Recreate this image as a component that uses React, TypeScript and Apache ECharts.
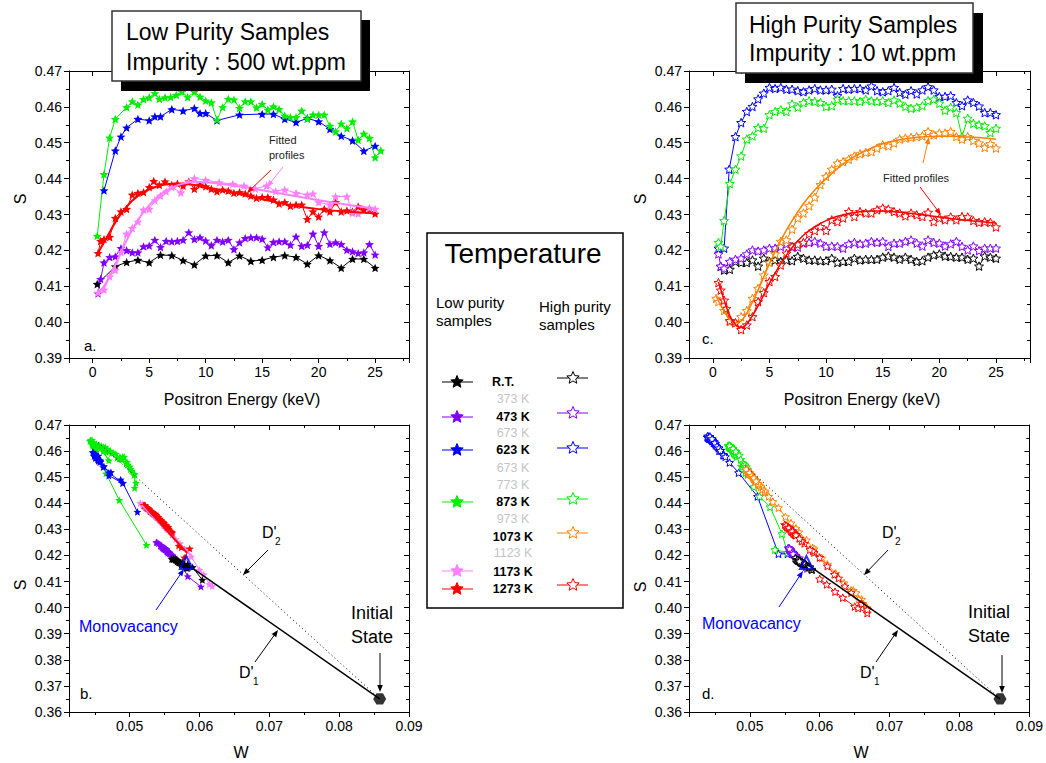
import React, { useEffect, useRef } from "react";
import * as echarts from "echarts";

const FONT = '"Liberation Sans", Arial, Helvetica, sans-serif';

// ---------------- colours ----------------
const C_RT = "#000000";
const C_473 = "#8000ff";
const C_623 = "#0000ff";
const C_873 = "#00ee00";
const C_1073 = "#ff8000";
const C_1173 = "#ff80ff";
const C_1273 = "#ff0000";

// ---------------- panel a : low purity, S vs positron energy ----------------
const aRT = [[0.4,0.4106],[2,0.4155],[3,0.4167],[4,0.4173],[5,0.4166],[6,0.4187],[7,0.4186],[8,0.4172],[9,0.416],[10,0.4185],[11,0.4186],[12,0.4166],[13,0.4185],[14,0.417],[15,0.4173],[16,0.4181],[17,0.4186],[18,0.4181],[19,0.4162],[20,0.4186],[21,0.4172],[22,0.4151],[23,0.4176],[24,0.4176],[25,0.4151]];
const a473 = [[0.47,0.408],[0.7,0.412],[1,0.4166],[1.5,0.4181],[2,0.4183],[2.5,0.4206],[3,0.42],[3.5,0.4194],[4,0.4194],[4.5,0.4211],[5,0.4213],[5.5,0.4229],[6,0.4209],[6.5,0.4226],[7,0.4225],[7.5,0.4226],[8,0.4229],[8.5,0.425],[9,0.4231],[9.5,0.4236],[10,0.4227],[10.5,0.4214],[11,0.4229],[11.5,0.4224],[12,0.4229],[12.5,0.4203],[13,0.4222],[13.5,0.4234],[14,0.4236],[14.5,0.4236],[15,0.4232],[15.5,0.4208],[16,0.4223],[16.5,0.4225],[17,0.4225],[17.5,0.4215],[18,0.4238],[18.5,0.4212],[19,0.4215],[19.5,0.4246],[20,0.4212],[20.5,0.425],[21,0.4218],[21.5,0.4222],[22,0.4217],[22.5,0.4201],[23,0.4197],[23.5,0.4192],[24,0.4194],[24.5,0.4217],[25,0.4188]];
const a623 = [[1,0.4367],[2,0.4478],[2.5,0.4517],[3,0.4542],[4,0.4566],[5,0.4562],[5.5,0.4573],[6,0.4573],[7,0.4593],[8,0.4589],[9,0.4596],[9.5,0.4582],[10,0.4582],[11,0.4562],[13,0.4578],[15,0.458],[16,0.458],[17,0.4566],[18,0.4557],[19,0.4568],[20,0.4559],[21,0.4538],[22,0.4519],[23,0.4506],[24,0.4477],[25,0.4491]];
const a873 = [[0.4,0.424],[1,0.4412],[1.5,0.4514],[2,0.4566],[3,0.4599],[3.5,0.4615],[4,0.4606],[4.5,0.4621],[5,0.4626],[5.5,0.4638],[5.9,0.4622],[6.4,0.4626],[6.9,0.4627],[7.4,0.4633],[7.9,0.4642],[8.4,0.4627],[9,0.4642],[9.5,0.4628],[10,0.4617],[10.5,0.4612],[11,0.4564],[11.5,0.4599],[12,0.4622],[12.5,0.462],[13,0.4597],[13.5,0.4615],[14,0.4615],[14.5,0.4598],[15,0.4608],[15.5,0.4592],[16,0.4601],[16.5,0.4593],[17,0.4575],[17.5,0.4571],[18,0.4571],[18.5,0.4589],[19,0.4567],[19.5,0.4578],[20,0.4578],[20.5,0.4578],[21,0.4547],[21.5,0.4531],[22,0.4553],[22.5,0.454],[23,0.4559],[23.5,0.4508],[24,0.4525],[24.5,0.4513],[25,0.4459],[25.5,0.4478]];
const a1173 = [[0.47,0.4082],[1,0.409],[1.5,0.4127],[2,0.4145],[2.5,0.4195],[3,0.4246],[3.5,0.4262],[4,0.428],[4.5,0.4313],[5,0.4315],[5.5,0.4339],[6,0.4352],[6.5,0.4364],[7,0.4376],[7.8,0.4361],[8.5,0.439],[9,0.4401],[10,0.4396],[11.2,0.4389],[12.4,0.4385],[13.4,0.438],[14.4,0.4372],[15.4,0.438],[16.2,0.4365],[17,0.4369],[18,0.436],[19,0.4355],[19.5,0.4358],[20,0.4334],[21,0.4327],[21.5,0.435],[22.5,0.435],[23,0.4304],[23.5,0.4302],[24.5,0.4318],[25,0.4315]];
const a1273 = [[0.47,0.4192],[0.7,0.4226],[1,0.4231],[1.5,0.4237],[2,0.429],[2.5,0.4308],[3,0.4315],[3.5,0.4355],[4,0.436],[4.5,0.4362],[5,0.4376],[5.4,0.4393],[5.9,0.4382],[6.4,0.4392],[7,0.4382],[7.5,0.4386],[8,0.438],[8.5,0.4392],[9,0.4371],[9.5,0.4383],[10,0.4378],[10.5,0.4371],[11,0.4364],[11.5,0.4369],[12,0.4366],[12.5,0.436],[13,0.4362],[13.5,0.4358],[14,0.4352],[14.5,0.4346],[15,0.4348],[15.5,0.4348],[16,0.4341],[16.5,0.433],[17,0.4334],[17.5,0.4324],[18,0.4327],[18.5,0.4327],[19,0.4287],[19.5,0.4308],[20,0.4294],[20.5,0.4315],[21,0.4308],[21.5,0.4334],[22,0.4308],[22.5,0.4311],[23,0.4308],[23.5,0.4322],[24,0.4313],[24.5,0.4315],[25,0.4302]];
const aFit1273 = [[0.47,0.4193],[1,0.4222],[2,0.4278],[3,0.4322],[4,0.4352],[5,0.437],[6,0.4381],[7,0.4386],[8,0.4386],[9,0.4382],[10,0.4376],[12,0.4364],[14,0.435],[16,0.4336],[18,0.4324],[20,0.4315],[22,0.4309],[25,0.4303]];
const aFit1173 = [[0.47,0.4083],[1,0.41],[2,0.416],[3,0.4228],[4,0.4284],[5,0.4326],[6,0.4356],[7,0.4375],[8,0.4386],[9,0.4391],[10,0.439],[12,0.4383],[14,0.4373],[16,0.4362],[18,0.4351],[20,0.434],[22,0.433],[25,0.4316]];

// ---------------- panel c : high purity, S vs positron energy ----------------
const cRT = [[0.7,0.4155],[1,0.4145],[1.5,0.4147],[2,0.4169],[2.5,0.4166],[3,0.4166],[3.5,0.4173],[4,0.4156],[4.5,0.4178],[5,0.4169],[5.5,0.4173],[6,0.4169],[6.5,0.4173],[7,0.4171],[7.5,0.4183],[8,0.4178],[8.5,0.4173],[9,0.4173],[9.5,0.4171],[10,0.4171],[10.5,0.4178],[11,0.4166],[11.5,0.4169],[12,0.4169],[12.5,0.4178],[13,0.4173],[13.5,0.4175],[14,0.4175],[14.5,0.4175],[15,0.4181],[15.5,0.4184],[16,0.4181],[16.5,0.4175],[17,0.4181],[17.5,0.4175],[18,0.4169],[18.5,0.4171],[19,0.4181],[19.5,0.4187],[20,0.419],[20.5,0.4184],[21,0.4183],[21.5,0.4181],[22,0.4181],[22.5,0.4175],[23,0.4178],[23.5,0.4156],[24,0.4184],[24.5,0.4181],[25,0.4178]];
const c473 = [[0.5,0.419],[0.7,0.4156],[1,0.415],[1.5,0.4169],[2,0.4175],[2.5,0.4178],[3,0.419],[3.5,0.4201],[4,0.4198],[4.5,0.4201],[5,0.4206],[5.5,0.4206],[6,0.4211],[6.5,0.4218],[7,0.4209],[7.5,0.4209],[8,0.422],[8.5,0.4222],[9,0.4225],[9.5,0.422],[10,0.4211],[10.5,0.4212],[11,0.4211],[11.5,0.4206],[12,0.4218],[12.5,0.4222],[13,0.4218],[13.5,0.422],[14,0.4225],[14.5,0.4222],[15,0.4225],[15.5,0.4211],[16,0.422],[16.5,0.422],[17,0.4225],[17.5,0.4229],[18,0.422],[18.5,0.4212],[19,0.4229],[19.5,0.4222],[20,0.422],[20.5,0.4212],[21,0.4218],[21.5,0.4225],[22,0.4211],[22.5,0.4201],[23,0.4212],[23.5,0.4199],[24,0.4206],[24.5,0.4206],[25,0.4206]];
const c623 = [[0.5,0.4206],[1,0.4206],[1.45,0.4426],[2,0.4517],[2.5,0.4556],[3,0.4587],[3.5,0.4601],[4,0.4622],[4.5,0.4638],[5,0.4654],[5.5,0.4651],[6,0.4654],[6.5,0.4649],[7,0.4649],[7.5,0.4645],[8,0.4642],[8.5,0.4647],[9,0.4651],[9.5,0.4647],[10,0.4647],[10.5,0.4649],[11,0.4631],[11.5,0.4651],[12,0.4649],[12.5,0.4651],[13,0.4651],[13.5,0.4647],[14,0.4658],[14.5,0.4645],[15,0.4642],[15.5,0.4645],[16,0.4654],[16.5,0.464],[17,0.4635],[17.5,0.4645],[18,0.4636],[18.5,0.4647],[19,0.4656],[19.5,0.4647],[20,0.4629],[20.5,0.4629],[21,0.4631],[21.5,0.4612],[22,0.4603],[22.5,0.4619],[23,0.4612],[23.5,0.4602],[24,0.4584],[24.5,0.4584],[25,0.4578]];
const c873 = [[0.5,0.4222],[0.7,0.4211],[1,0.4283],[1.5,0.4386],[2,0.4426],[2.5,0.4463],[3,0.451],[3.5,0.4519],[4,0.4542],[4.5,0.454],[5,0.4578],[5.5,0.4587],[6,0.4592],[6.5,0.4587],[7,0.4608],[7.5,0.4599],[8,0.4612],[8.5,0.4617],[9,0.4615],[9.5,0.4612],[10,0.4601],[10.5,0.4603],[11,0.4621],[11.5,0.4617],[12,0.4617],[12.5,0.4617],[13,0.4615],[13.5,0.4621],[14,0.4617],[14.5,0.4615],[15,0.4617],[15.5,0.4612],[16,0.4619],[16.5,0.461],[17,0.4601],[17.5,0.4596],[18,0.4599],[18.5,0.4603],[19,0.4617],[19.5,0.4621],[20,0.461],[20.5,0.459],[21,0.4599],[21.5,0.4584],[22,0.4517],[22.5,0.4568],[23,0.4554],[23.5,0.455],[24,0.4547],[24.5,0.4528],[25,0.454]];
const c1073 = [[0.3,0.4066],[0.5,0.4057],[1,0.4032],[1.5,0.4001],[2,0.3998],[2.5,0.4015],[3,0.4032],[3.5,0.4066],[4,0.4094],[4.5,0.4131],[5,0.4166],[5.5,0.419],[6,0.4225],[6.5,0.4229],[7,0.4259],[7.5,0.429],[8,0.4304],[8.5,0.4324],[9,0.4348],[9.5,0.4383],[10,0.4406],[10.5,0.4426],[11,0.4443],[11.5,0.4447],[12,0.4454],[12.5,0.4463],[13,0.4469],[13.5,0.4473],[14,0.4475],[14.5,0.4485],[15,0.4494],[15.5,0.4491],[16,0.4499],[16.5,0.451],[17,0.4513],[17.5,0.4515],[18,0.4517],[18.5,0.4519],[19,0.4531],[19.5,0.4522],[20,0.4527],[20.5,0.4527],[21,0.4531],[21.5,0.4517],[22,0.451],[22.5,0.4517],[23,0.4506],[23.5,0.4499],[24,0.4487],[24.5,0.4497],[25,0.4485]];
const c1273 = [[0.5,0.411],[0.7,0.4089],[1,0.4061],[1.2,0.4038],[1.5,0.4004],[2,0.3998],[2.5,0.3979],[3,0.3992],[3.5,0.4015],[4,0.4057],[4.5,0.4082],[5,0.4113],[5.5,0.4127],[6,0.4159],[6.5,0.4192],[7,0.4211],[7.5,0.4217],[8,0.4222],[8.5,0.4246],[9,0.4255],[9.5,0.4266],[10,0.4255],[10.5,0.4285],[11,0.428],[11.5,0.429],[12,0.4308],[12.5,0.4294],[13,0.4308],[13.5,0.4304],[14,0.4304],[14.5,0.4313],[15,0.4318],[15.5,0.4315],[16,0.4308],[16.5,0.4304],[17,0.4296],[17.5,0.4304],[18,0.4299],[18.5,0.4294],[19,0.4306],[19.5,0.428],[20,0.429],[20.5,0.4285],[21,0.4293],[21.5,0.4285],[22,0.4294],[22.5,0.4293],[23,0.4283],[23.5,0.4278],[24,0.428],[24.5,0.4278],[25,0.4265]];
const cFit1073 = [[0.3,0.4072],[1,0.403],[1.5,0.4008],[2,0.3998],[2.5,0.4003],[3,0.4025],[4,0.409],[5,0.4163],[6,0.4228],[7,0.4283],[8,0.433],[9,0.4368],[10,0.44],[11,0.4428],[12,0.4452],[13,0.447],[14,0.4485],[15,0.4497],[16,0.4505],[17,0.4511],[18,0.4515],[19,0.4517],[20,0.4518],[21,0.4518],[22,0.4517],[23,0.4515],[24,0.4513],[25,0.451]];
const cFit1273 = [[0.5,0.4112],[1,0.4062],[1.5,0.4018],[2,0.3993],[2.5,0.3985],[3,0.3995],[4,0.4045],[5,0.4108],[6,0.4163],[7,0.4208],[8,0.4242],[9,0.4266],[10,0.4283],[11,0.4295],[12,0.4303],[13,0.4308],[14,0.431],[15,0.431],[16,0.4308],[17,0.4305],[18,0.4301],[19,0.4297],[20,0.4293],[21,0.4289],[22,0.4285],[23,0.4282],[24,0.4279],[25,0.4276]];

// ---------------- panel b : low purity, S vs W ----------------
const bRT = [[0.0604,0.4106],[0.059,0.4155],[0.0583,0.4167],[0.0575,0.4173],[0.0578,0.4166],[0.0562,0.4187],[0.0566,0.4186],[0.0573,0.4172],[0.058,0.416],[0.0565,0.4185],[0.0563,0.4186],[0.0574,0.4166],[0.0566,0.4185],[0.0573,0.417],[0.057,0.4173],[0.0568,0.4181],[0.056,0.4186],[0.0566,0.4181],[0.0576,0.4162],[0.0562,0.4186],[0.0571,0.4172],[0.0581,0.4151],[0.0568,0.4176],[0.057,0.4176],[0.0583,0.4151]];
const b473 = [[0.0602,0.408],[0.0583,0.412],[0.0574,0.4166],[0.0569,0.4181],[0.0567,0.4183],[0.0558,0.4206],[0.0561,0.42],[0.0563,0.4194],[0.0562,0.4194],[0.0555,0.4211],[0.0556,0.4213],[0.0549,0.4229],[0.0557,0.4209],[0.055,0.4226],[0.0552,0.4225],[0.0549,0.4226],[0.0548,0.4229],[0.0539,0.425],[0.0547,0.4231],[0.0545,0.4236],[0.055,0.4227],[0.0555,0.4214],[0.0548,0.4229],[0.0551,0.4224],[0.0549,0.4229],[0.0559,0.4203],[0.0552,0.4222],[0.0546,0.4234],[0.0544,0.4236],[0.0546,0.4236],[0.0547,0.4232],[0.0557,0.4208],[0.0551,0.4223],[0.055,0.4225],[0.0551,0.4225],[0.0554,0.4215],[0.0544,0.4238],[0.0556,0.4212],[0.0554,0.4215],[0.0541,0.4246],[0.0555,0.4212],[0.0538,0.425],[0.0553,0.4218],[0.0552,0.4222],[0.0554,0.4217],[0.056,0.4201],[0.0561,0.4197],[0.0563,0.4192],[0.0562,0.4194],[0.0553,0.4217],[0.0565,0.4188]];
const b623 = [[0.0511,0.4367],[0.049,0.4478],[0.047,0.4517],[0.0463,0.4542],[0.0456,0.4566],[0.0455,0.4562],[0.0451,0.4573],[0.0454,0.4573],[0.0448,0.4593],[0.045,0.4589],[0.0447,0.4596],[0.0452,0.4582],[0.0455,0.4582],[0.0458,0.4562],[0.0451,0.4578],[0.0453,0.458],[0.0449,0.458],[0.0455,0.4566],[0.0457,0.4557],[0.0454,0.4568],[0.0458,0.4559],[0.0462,0.4538],[0.0473,0.4519],[0.047,0.4506],[0.049,0.4477],[0.0487,0.4491]];
const b873 = [[0.0524,0.424],[0.0485,0.4412],[0.0466,0.4514],[0.0458,0.4566],[0.0452,0.4599],[0.0449,0.4615],[0.0451,0.4606],[0.0447,0.4621],[0.0446,0.4626],[0.0443,0.4638],[0.0448,0.4622],[0.0447,0.4626],[0.0449,0.4627],[0.0446,0.4633],[0.0444,0.4642],[0.045,0.4627],[0.0446,0.4642],[0.0452,0.4628],[0.0455,0.4617],[0.0458,0.4612],[0.047,0.4564],[0.0462,0.4599],[0.0456,0.4622],[0.0459,0.462],[0.0466,0.4597],[0.0462,0.4615],[0.0465,0.4615],[0.047,0.4598],[0.0468,0.4608],[0.0474,0.4592],[0.0472,0.4601],[0.0477,0.4593],[0.0482,0.4575],[0.0485,0.4571],[0.0487,0.4571],[0.048,0.4589],[0.0489,0.4567],[0.0486,0.4578],[0.049,0.4578],[0.0492,0.4578],[0.0497,0.4547],[0.0501,0.4531],[0.0495,0.4553],[0.05,0.454],[0.0496,0.4559],[0.0506,0.4508],[0.0503,0.4525],[0.0507,0.4513],[0.0507,0.4459],[0.0509,0.4478]];
const b1173 = [[0.0618,0.4082],[0.0614,0.409],[0.0606,0.4127],[0.06,0.4145],[0.0588,0.4195],[0.0572,0.4246],[0.0566,0.4262],[0.0561,0.428],[0.0551,0.4313],[0.0549,0.4315],[0.0542,0.4339],[0.0537,0.4352],[0.0533,0.4364],[0.0528,0.4376],[0.0534,0.4361],[0.0522,0.439],[0.0515,0.4401],[0.0518,0.4396],[0.0521,0.4389],[0.0523,0.4385],[0.0525,0.438],[0.0528,0.4372],[0.0526,0.438],[0.0532,0.4365],[0.053,0.4369],[0.0534,0.436],[0.0536,0.4355],[0.0535,0.4358],[0.0543,0.4334],[0.0546,0.4327],[0.0538,0.435],[0.0537,0.435],[0.0553,0.4304],[0.0554,0.4302],[0.0549,0.4318],[0.055,0.4315]];
const b1273 = [[0.0578,0.4192],[0.0586,0.4226],[0.0574,0.4231],[0.057,0.4237],[0.056,0.429],[0.0555,0.4308],[0.0552,0.4315],[0.0538,0.4355],[0.0536,0.436],[0.0534,0.4362],[0.0528,0.4376],[0.0521,0.4393],[0.0526,0.4382],[0.0522,0.4392],[0.0525,0.4382],[0.0523,0.4386],[0.0526,0.438],[0.052,0.4392],[0.0529,0.4371],[0.0524,0.4383],[0.0527,0.4378],[0.053,0.4371],[0.0532,0.4364],[0.053,0.4369],[0.0532,0.4366],[0.0534,0.436],[0.0533,0.4362],[0.0536,0.4358],[0.0538,0.4352],[0.054,0.4346],[0.0539,0.4348],[0.0541,0.4348],[0.0543,0.4341],[0.0547,0.433],[0.0545,0.4334],[0.0549,0.4324],[0.0548,0.4327],[0.0547,0.4327],[0.0561,0.4287],[0.0553,0.4308],[0.0558,0.4294],[0.0551,0.4315],[0.0554,0.4308],[0.0544,0.4334],[0.0555,0.4308],[0.0553,0.4311],[0.0554,0.4308],[0.0549,0.4322],[0.0552,0.4313],[0.0551,0.4315],[0.0556,0.4302]];
const bFit1273 = [[0.0522,0.4388],[0.0582,0.421]];
const bFit1173 = [[0.0517,0.4393],[0.059,0.4195]];

// ---------------- panel d : high purity, S vs W ----------------
const dRT = [[0.0585,0.4155],[0.0589,0.4145],[0.0588,0.4147],[0.0578,0.4169],[0.058,0.4166],[0.0577,0.4166],[0.0575,0.4173],[0.0584,0.4156],[0.0571,0.4178],[0.0576,0.4169],[0.0574,0.4173],[0.0577,0.4169],[0.0573,0.4173],[0.0576,0.4171],[0.0568,0.4183],[0.0571,0.4178],[0.0575,0.4173],[0.0574,0.4173],[0.0576,0.4171],[0.0575,0.4171],[0.0572,0.4178],[0.0579,0.4166],[0.0577,0.4169],[0.0576,0.4169],[0.0571,0.4178],[0.0574,0.4173],[0.0573,0.4175],[0.0574,0.4175],[0.0572,0.4175],[0.0569,0.4181],[0.0567,0.4184],[0.057,0.4181],[0.0573,0.4175],[0.0569,0.4181],[0.0574,0.4175],[0.0577,0.4169],[0.0576,0.4171],[0.057,0.4181],[0.0566,0.4187],[0.0565,0.419],[0.0568,0.4184],[0.0569,0.4183],[0.057,0.4181],[0.0569,0.4181],[0.0573,0.4175],[0.0572,0.4178],[0.0586,0.4156],[0.0568,0.4184],[0.057,0.4181],[0.0571,0.4178]];
const d473 = [[0.0571,0.419],[0.058,0.4156],[0.0582,0.415],[0.0576,0.4169],[0.0574,0.4175],[0.0572,0.4178],[0.0568,0.419],[0.0565,0.4201],[0.0566,0.4198],[0.0564,0.4201],[0.0563,0.4206],[0.0562,0.4206],[0.0561,0.4211],[0.0559,0.4218],[0.0562,0.4209],[0.0561,0.4209],[0.0558,0.422],[0.0557,0.4222],[0.0556,0.4225],[0.0558,0.422],[0.056,0.4211],[0.0561,0.4212],[0.0561,0.4211],[0.0563,0.4206],[0.0558,0.4218],[0.0557,0.4222],[0.0559,0.4218],[0.0558,0.422],[0.0556,0.4225],[0.0557,0.4222],[0.0556,0.4225],[0.0561,0.4211],[0.0558,0.422],[0.0559,0.422],[0.0557,0.4225],[0.0555,0.4229],[0.0559,0.422],[0.0561,0.4212],[0.0556,0.4229],[0.0557,0.4222],[0.0558,0.422],[0.056,0.4212],[0.0559,0.4218],[0.0557,0.4225],[0.0561,0.4211],[0.0564,0.4201],[0.0561,0.4212],[0.0565,0.4199],[0.0563,0.4206],[0.0563,0.4206],[0.0562,0.4206]];
const d623 = [[0.0554,0.4206],[0.0541,0.4206],[0.0511,0.4426],[0.0484,0.4517],[0.0471,0.4556],[0.0462,0.4587],[0.0456,0.4601],[0.0451,0.4622],[0.0446,0.4638],[0.0441,0.4654],[0.0442,0.4651],[0.0439,0.4654],[0.0443,0.4649],[0.0441,0.4649],[0.0444,0.4645],[0.0445,0.4642],[0.0443,0.4647],[0.044,0.4651],[0.0442,0.4647],[0.0444,0.4647],[0.0441,0.4649],[0.0448,0.4631],[0.0442,0.4651],[0.0443,0.4649],[0.0441,0.4651],[0.0443,0.4651],[0.0445,0.4647],[0.044,0.4658],[0.0446,0.4645],[0.0447,0.4642],[0.0445,0.4645],[0.0442,0.4654],[0.0447,0.464],[0.0449,0.4635],[0.0446,0.4645],[0.0449,0.4636],[0.0445,0.4647],[0.0443,0.4656],[0.0446,0.4647],[0.045,0.4629],[0.0451,0.4629],[0.045,0.4631],[0.0455,0.4612],[0.0458,0.4603],[0.0453,0.4619],[0.0456,0.4612],[0.0458,0.4602],[0.0463,0.4584],[0.0462,0.4584],[0.0465,0.4578]];
const d873 = [[0.0536,0.4222],[0.0554,0.4211],[0.0546,0.4283],[0.0529,0.4386],[0.0514,0.4426],[0.0506,0.4463],[0.0497,0.451],[0.0494,0.4519],[0.0488,0.4542],[0.049,0.454],[0.0481,0.4578],[0.0479,0.4587],[0.0477,0.4592],[0.048,0.4587],[0.0474,0.4608],[0.0477,0.4599],[0.0472,0.4612],[0.047,0.4617],[0.0471,0.4615],[0.0473,0.4612],[0.0476,0.4601],[0.0475,0.4603],[0.0469,0.4621],[0.0471,0.4617],[0.0472,0.4617],[0.047,0.4617],[0.0472,0.4615],[0.047,0.4621],[0.0472,0.4617],[0.0473,0.4615],[0.0471,0.4617],[0.0474,0.4612],[0.0472,0.4619],[0.0475,0.461],[0.0478,0.4601],[0.048,0.4596],[0.0479,0.4599],[0.0477,0.4603],[0.0473,0.4617],[0.0471,0.4621],[0.0476,0.461],[0.0482,0.459],[0.048,0.4599],[0.0485,0.4584],[0.0494,0.4517],[0.0487,0.4568],[0.049,0.4554],[0.0491,0.455],[0.0493,0.4547],[0.0497,0.4528],[0.0495,0.454]];
const d1073 = [[0.0648,0.4066],[0.0652,0.4057],[0.066,0.4032],[0.0667,0.4001],[0.0668,0.3998],[0.0662,0.4015],[0.0656,0.4032],[0.0645,0.4066],[0.0635,0.4094],[0.0623,0.4131],[0.0611,0.4166],[0.0603,0.419],[0.0592,0.4225],[0.059,0.4229],[0.0581,0.4259],[0.057,0.429],[0.0566,0.4304],[0.0559,0.4324],[0.0551,0.4348],[0.0541,0.4383],[0.0533,0.4406],[0.0527,0.4426],[0.0522,0.4443],[0.0521,0.4447],[0.0518,0.4454],[0.0516,0.4463],[0.0514,0.4469],[0.0512,0.4473],[0.0512,0.4475],[0.0509,0.4485],[0.0506,0.4494],[0.0507,0.4491],[0.0505,0.4499],[0.0501,0.451],[0.05,0.4513],[0.05,0.4515],[0.0499,0.4517],[0.0498,0.4519],[0.0495,0.4531],[0.0497,0.4522],[0.0496,0.4527],[0.0497,0.4527],[0.0495,0.4531],[0.0499,0.4517],[0.0502,0.451],[0.05,0.4517],[0.0503,0.4506],[0.0505,0.4499],[0.0508,0.4487],[0.0506,0.4497],[0.0509,0.4485]];
const d1273 = [[0.06,0.411],[0.061,0.4089],[0.0622,0.4061],[0.0633,0.4038],[0.065,0.4004],[0.0655,0.3998],[0.0668,0.3979],[0.0668,0.3992],[0.066,0.4015],[0.0645,0.4057],[0.0636,0.4082],[0.0627,0.4113],[0.0621,0.4127],[0.0611,0.4159],[0.06,0.4192],[0.0592,0.4211],[0.059,0.4217],[0.0586,0.4222],[0.0578,0.4246],[0.0575,0.4255],[0.0571,0.4266],[0.0574,0.4255],[0.0563,0.4285],[0.0566,0.428],[0.0561,0.429],[0.0553,0.4308],[0.0559,0.4294],[0.0555,0.4308],[0.0556,0.4304],[0.0557,0.4304],[0.0552,0.4313],[0.055,0.4318],[0.0552,0.4315],[0.0555,0.4308],[0.0557,0.4304],[0.056,0.4296],[0.0556,0.4304],[0.0558,0.4299],[0.0561,0.4294],[0.0556,0.4306],[0.0564,0.428],[0.056,0.429],[0.0563,0.4285],[0.056,0.4293],[0.0562,0.4285],[0.0559,0.4294],[0.0561,0.4293],[0.0564,0.4283],[0.0566,0.4278],[0.0565,0.428],[0.0566,0.4278],[0.0571,0.4265]];

// ---------------- reference points / lines of the S-W plots ----------------
const initialState = [[0.0858, 0.365]];
const monovacancy = [[0.0581, 0.4173]];
const lineD1 = [[0.0858, 0.365], [0.0581, 0.4168]];
const lineD2Low = [[0.0858, 0.365], [0.0452, 0.464]];
const lineD2High = [[0.0858, 0.365], [0.049, 0.4552]];

// ---------------- legend texts ----------------
const legendLabels = ["R.T.", "373 K", "473 K", "673 K", "623 K", "673 K", "773 K", "873 K", "973 K", "1073 K", "1123 K", "1173 K", "1273 K"];
const legendGrey = [false, true, false, true, false, true, true, false, true, false, true, false, false];
const lowLegendColors = [C_RT, C_473, C_623, C_873, C_1173, C_1273];
const highLegendColors = [C_RT, C_473, C_623, C_873, C_1073, C_1273];

// ---------------- layout ----------------
const legendLabelY = [382, 399, 417, 433, 450, 468, 485, 502, 519, 537, 553, 572, 589];
const lowMarkerY = [382, 417, 450, 502, 571, 589];
const highMarkerY = [378, 413, 448, 499, 533, 585];

function starPath(inner: number) {
  let d = "";
  for (let i = 0; i < 10; i++) {
    const r = i % 2 === 0 ? 1 : inner;
    const a = -Math.PI / 2 + (i * Math.PI) / 5;
    d += (i === 0 ? "M" : "L") + (r * Math.cos(a) * 50 + 50).toFixed(2) + "," + (r * Math.sin(a) * 50 + 50).toFixed(2) + " ";
  }
  return "path://" + d + "Z";
}
const STAR = starPath(0.45);
const HEX = "path://M25,0 L75,0 L100,43.3 L75,86.6 L25,86.6 L0,43.3 Z";

function starPoly(cx: number, cy: number, r: number, fill: string, stroke: string) {
  const pts: number[][] = [];
  for (let i = 0; i < 10; i++) {
    const rr = i % 2 === 0 ? r : r * 0.45;
    const a = -Math.PI / 2 + (i * Math.PI) / 5;
    pts.push([cx + rr * Math.cos(a), cy + rr * Math.sin(a)]);
  }
  return { type: "polygon", z: 101, shape: { points: pts }, style: { fill, stroke, lineWidth: 1 } };
}

function txt(text: string, x: number, y: number, size: number, o: any = {}) {
  return {
    type: "text",
    x,
    y,
    z: o.z ?? 60,
    rotation: o.rotation ?? 0,
    style: {
      text,
      fill: o.color || "#000",
      fontSize: size,
      fontFamily: FONT,
      fontWeight: o.weight || "normal",
      align: o.align || "left",
      textAlign: o.align || "left",
      verticalAlign: "middle",
      textVerticalAlign: "middle",
    },
  };
}

function arrow(x1: number, y1: number, x2: number, y2: number, color: string, lw = 1) {
  const dx = x2 - x1, dy = y2 - y1;
  const L = Math.hypot(dx, dy);
  const ux = dx / L, uy = dy / L;
  const hl = 7, hw = 2.8;
  const bx = x2 - ux * hl, by = y2 - uy * hl;
  return [
    { type: "line", z: 55, shape: { x1, y1, x2: bx + ux, y2: by + uy }, style: { stroke: color, lineWidth: lw } },
    { type: "polygon", z: 55, shape: { points: [[x2, y2], [bx - uy * hw, by + ux * hw], [bx + uy * hw, by - ux * hw]] }, style: { fill: color } },
  ];
}

const fmtE = (v: number) => (Math.abs(v / 5 - Math.round(v / 5)) < 1e-6 ? String(Math.round(v)) : "");
const fmtW = (v: number) => (Math.abs(v * 100 - Math.round(v * 100)) < 1e-6 ? v.toFixed(2) : "");
const fmtS = (v: number) => v.toFixed(2);

function xAx(grid: number, min: number, max: number, split: number, fmt: any, top = false) {
  return {
    type: "value",
    gridIndex: grid,
    position: top ? "top" : "bottom",
    min,
    max,
    splitNumber: split,
    axisLine: { show: true, onZero: false, lineStyle: { color: "#000", width: 1 } },
    axisTick: { show: true, inside: top, length: 5, lineStyle: { color: "#000", width: 1 } },
    minorTick: { show: true, splitNumber: 2, length: 3, lineStyle: { color: "#000", width: 1 } },
    splitLine: { show: false },
    axisLabel: {
      show: !top,
      formatter: fmt,
      fontSize: 14,
      fontFamily: FONT,
      color: "#000",
      margin: 7,
      showMinLabel: true,
      showMaxLabel: true,
      hideOverlap: false,
    },
  };
}
function yAx(grid: number, min: number, max: number, right = false) {
  return {
    type: "value",
    gridIndex: grid,
    position: right ? "right" : "left",
    min,
    max,
    interval: 0.01,
    axisLine: { show: true, onZero: false, lineStyle: { color: "#000", width: 1 } },
    axisTick: { show: true, inside: right, length: 5, lineStyle: { color: "#000", width: 1 } },
    minorTick: { show: true, splitNumber: 2, length: 3, lineStyle: { color: "#000", width: 1 } },
    splitLine: { show: false },
    axisLabel: { show: !right, formatter: fmtS, fontSize: 14, fontFamily: FONT, color: "#000", margin: 7 },
  };
}

function filled(data: any, color: string, ax: number, size = 9) {
  return {
    type: "line",
    data,
    xAxisIndex: ax,
    yAxisIndex: ax,
    symbol: STAR,
    symbolSize: size,
    symbolKeepAspect: true,
    lineStyle: { color, width: 1 },
    itemStyle: { color },
    emphasis: { disabled: true },
    z: 3,
  };
}
function hollow(data: any, color: string, ax: number, size = 9) {
  return {
    type: "line",
    data,
    xAxisIndex: ax,
    yAxisIndex: ax,
    symbol: STAR,
    symbolSize: size,
    symbolKeepAspect: true,
    lineStyle: { color, width: 1 },
    itemStyle: { color: "#ffffff", borderColor: color, borderWidth: 1 },
    emphasis: { disabled: true },
    z: 3,
  };
}
function fit(data: any, color: string, ax: number, width = 2) {
  return {
    type: "line",
    data,
    xAxisIndex: ax,
    yAxisIndex: ax,
    symbol: "none",
    smooth: 0.4,
    lineStyle: { color, width },
    emphasis: { disabled: true },
    z: 4,
  };
}
function refLines(ax: number, d2: any) {
  return [
    { type: "line", data: lineD1, xAxisIndex: ax, yAxisIndex: ax, symbol: "none", lineStyle: { color: "#000", width: 1.5 }, z: 5 },
    { type: "line", data: d2, xAxisIndex: ax, yAxisIndex: ax, symbol: "none", lineStyle: { color: "#000", width: 1, type: [1, 3] }, z: 5 },
    {
      type: "scatter", data: monovacancy, xAxisIndex: ax, yAxisIndex: ax, symbol: "triangle", symbolSize: 13,
      itemStyle: { color: "rgba(0,0,0,0)", borderColor: C_623, borderWidth: 2 }, z: 6,
    },
    {
      type: "scatter", data: initialState, xAxisIndex: ax, yAxisIndex: ax, symbol: HEX, symbolSize: 13,
      symbolKeepAspect: true, itemStyle: { color: "#000" }, z: 6,
    },
  ];
}

function buildGraphic() {
  const g: any[] = [];
  // title boxes
  g.push({ type: "rect", z: 100, shape: { x: 121, y: 20, width: 249, height: 71 }, style: { fill: "#000" } });
  g.push({ type: "rect", z: 101, shape: { x: 112, y: 11, width: 249, height: 70 }, style: { fill: "#fff", stroke: "#333", lineWidth: 1.5 } });
  g.push(txt("Low Purity Samples", 126, 32, 23, { z: 102 }));
  g.push(txt("Impurity : 500 wt.ppm", 126, 62, 23, { z: 102 }));
  g.push({ type: "rect", z: 100, shape: { x: 745, y: 13, width: 238, height: 70 }, style: { fill: "#000" } });
  g.push({ type: "rect", z: 101, shape: { x: 736, y: 3, width: 237, height: 70 }, style: { fill: "#fff", stroke: "#333", lineWidth: 1.5 } });
  g.push(txt("High Purity Samples", 749, 25, 23, { z: 102 }));
  g.push(txt("Impurity : 10 wt.ppm", 749, 53, 23, { z: 102 }));

  // axis names
  g.push(txt("Positron Energy (keV)", 242, 399, 16, { align: "center" }));
  g.push(txt("Positron Energy (keV)", 862, 399, 16, { align: "center" }));
  g.push(txt("W", 241, 752, 16, { align: "center" }));
  g.push(txt("W", 861, 752, 16, { align: "center" }));
  g.push(txt("S", 20, 199, 16, { align: "center", rotation: Math.PI / 2 }));
  g.push(txt("S", 640, 199, 16, { align: "center", rotation: Math.PI / 2 }));
  g.push(txt("S", 20, 585, 16, { align: "center", rotation: Math.PI / 2 }));
  g.push(txt("S", 640, 587, 16, { align: "center", rotation: Math.PI / 2 }));

  // panel letters
  g.push(txt("a.", 84, 345, 15));
  g.push(txt("c.", 702, 338, 15));
  g.push(txt("b.", 80, 693, 15));
  g.push(txt("d.", 702, 693, 15));

  // fitted profiles annotations
  g.push(txt("Fitted", 269, 140, 11, { color: "#222" }));
  g.push(txt("profiles", 269, 155, 11, { color: "#222" }));
  g.push(...arrow(271, 170, 247, 193, C_1273));
  g.push(...arrow(283, 167, 267, 187, C_1173));
  g.push(txt("Fitted profiles", 883, 178, 11, { color: "#222" }));
  g.push(...arrow(923, 163, 929, 137, C_1073));
  g.push(...arrow(920, 187, 941, 215, C_1273));

  // S-W annotations (b)
  g.push(txt("Monovacancy", 79, 626, 16, { color: C_623 }));
  g.push(...arrow(156, 610, 184, 569, C_623));
  g.push(txt("Initial", 372, 613, 18, { align: "center" }));
  g.push(txt("State", 372, 637, 18, { align: "center" }));
  g.push(...arrow(380, 653, 380, 692, "#000"));
  g.push(txt("D'", 262, 532, 16));
  g.push(txt("2", 275, 541, 10));
  g.push(...arrow(268, 550, 243, 575, "#000"));
  g.push(txt("D'", 239, 672, 16));
  g.push(txt("1", 253, 681, 10));
  g.push(...arrow(255, 662, 278, 630, "#000"));

  // S-W annotations (d)
  g.push(txt("Monovacancy", 702, 623, 16, { color: C_623 }));
  g.push(...arrow(779, 607, 803, 571, C_623));
  g.push(txt("Initial", 989, 612, 18, { align: "center" }));
  g.push(txt("State", 989, 636, 18, { align: "center" }));
  g.push(...arrow(1002, 655, 1002, 693, "#000"));
  g.push(txt("D'", 882, 532, 16));
  g.push(txt("2", 895, 541, 10));
  g.push(...arrow(888, 550, 864, 575, "#000"));
  g.push(txt("D'", 860, 672, 16));
  g.push(txt("1", 874, 681, 10));
  g.push(...arrow(876, 662, 898, 630, "#000"));

  // temperature legend
  g.push({ type: "rect", z: 100, shape: { x: 427, y: 233, width: 196, height: 375 }, style: { fill: "#fff", stroke: "#000", lineWidth: 1.5 } });
  g.push(txt("Temperature", 523, 253, 28, { align: "center", z: 102 }));
  g.push(txt("Low purity", 436, 302, 15, { z: 102 }));
  g.push(txt("samples", 436, 320, 15, { z: 102 }));
  g.push(txt("High purity", 539, 306, 15, { z: 102 }));
  g.push(txt("samples", 539, 324, 15, { z: 102 }));
  legendLabels.forEach((lab, i) => {
    const grey = legendGrey[i];
    if (i === 0) g.push(txt(lab, 492, legendLabelY[i], 12.5, { weight: "bold", z: 102 }));
    else
      g.push(
        txt(lab, 513, legendLabelY[i], 12.5, {
          align: "center",
          weight: grey ? "normal" : "bold",
          color: grey ? "#c4c4c4" : "#000",
          z: 102,
        })
      );
  });
  lowLegendColors.forEach((c, i) => {
    const y = lowMarkerY[i];
    g.push({ type: "line", z: 101, shape: { x1: 442, y1: y, x2: 473, y2: y }, style: { stroke: c, lineWidth: 1 } });
    g.push(starPoly(457, y, 6.5, c, c));
  });
  highLegendColors.forEach((c, i) => {
    const y = highMarkerY[i];
    g.push({ type: "line", z: 101, shape: { x1: 557, y1: y, x2: 588, y2: y }, style: { stroke: c, lineWidth: 1 } });
    g.push(starPoly(573, y, 6.5, "#fff", c));
  });
  return g;
}

export default function App() {
  const ref = useRef<HTMLDivElement>(null);
  useEffect(() => {
    if (!ref.current) return;
    const chart = echarts.init(ref.current, undefined, { renderer: "svg" });
    const EMIN = -2.1, EMAX = 28;
    const WMIN = 0.0413, WMAX = 0.09;
    const option: any = {
      animation: false,
      backgroundColor: "#ffffff",
      grid: [
        { left: 69, top: 71, width: 340, height: 287 },
        { left: 689, top: 71, width: 341, height: 287 },
        { left: 69, top: 425, width: 340, height: 287 },
        { left: 689, top: 425, width: 341, height: 287 },
      ],
      xAxis: [
        xAx(0, EMIN, EMAX, 6, fmtE),
        xAx(1, EMIN, EMAX, 6, fmtE),
        xAx(2, WMIN, WMAX, 5, fmtW),
        xAx(3, WMIN, WMAX, 5, fmtW),
        xAx(0, EMIN, EMAX, 6, fmtE, true),
        xAx(1, EMIN, EMAX, 6, fmtE, true),
        xAx(2, WMIN, WMAX, 5, fmtW, true),
        xAx(3, WMIN, WMAX, 5, fmtW, true),
      ],
      yAxis: [
        yAx(0, 0.39, 0.47),
        yAx(1, 0.39, 0.47),
        yAx(2, 0.36, 0.47),
        yAx(3, 0.36, 0.47),
        yAx(0, 0.39, 0.47, true),
        yAx(1, 0.39, 0.47, true),
        yAx(2, 0.36, 0.47, true),
        yAx(3, 0.36, 0.47, true),
      ],
      series: [
        // a
        filled(aRT, C_RT, 0),
        filled(a473, C_473, 0),
        filled(a623, C_623, 0),
        filled(a873, C_873, 0),
        filled(a1273, C_1273, 0),
        fit(aFit1273, C_1273, 0),
        filled(a1173, C_1173, 0),
        fit(aFit1173, C_1173, 0),
        // c
        hollow(cRT, C_RT, 1),
        hollow(c473, C_473, 1),
        hollow(c623, C_623, 1),
        hollow(c873, C_873, 1),
        hollow(c1073, C_1073, 1),
        fit(cFit1073, C_1073, 1, 1.5),
        hollow(c1273, C_1273, 1),
        fit(cFit1273, C_1273, 1, 1.5),
        // b
        ...refLines(2, lineD2Low),
        filled(b873, C_873, 2, 8),
        filled(b623, C_623, 2, 8),
        filled(b1173, C_1173, 2, 8),
        filled(b1273, C_1273, 2, 8),
        fit(bFit1173, C_1173, 2, 2),
        fit(bFit1273, C_1273, 2, 2),
        filled(b473, C_473, 2, 8),
        filled(bRT, C_RT, 2, 8),
        // d
        ...refLines(3, lineD2High),
        hollow(d623, C_623, 3, 8),
        hollow(d873, C_873, 3, 8),
        hollow(d1073, C_1073, 3, 8),
        hollow(d1273, C_1273, 3, 8),
        hollow(d473, C_473, 3, 8),
        hollow(dRT, C_RT, 3, 8),
      ],
      graphic: { elements: buildGraphic() },
    };
    chart.setOption(option);
    return () => chart.dispose();
  }, []);
  return <div ref={ref} style={{ position: "absolute", left: 0, top: 0, width: 1046, height: 763 }} />;
}
